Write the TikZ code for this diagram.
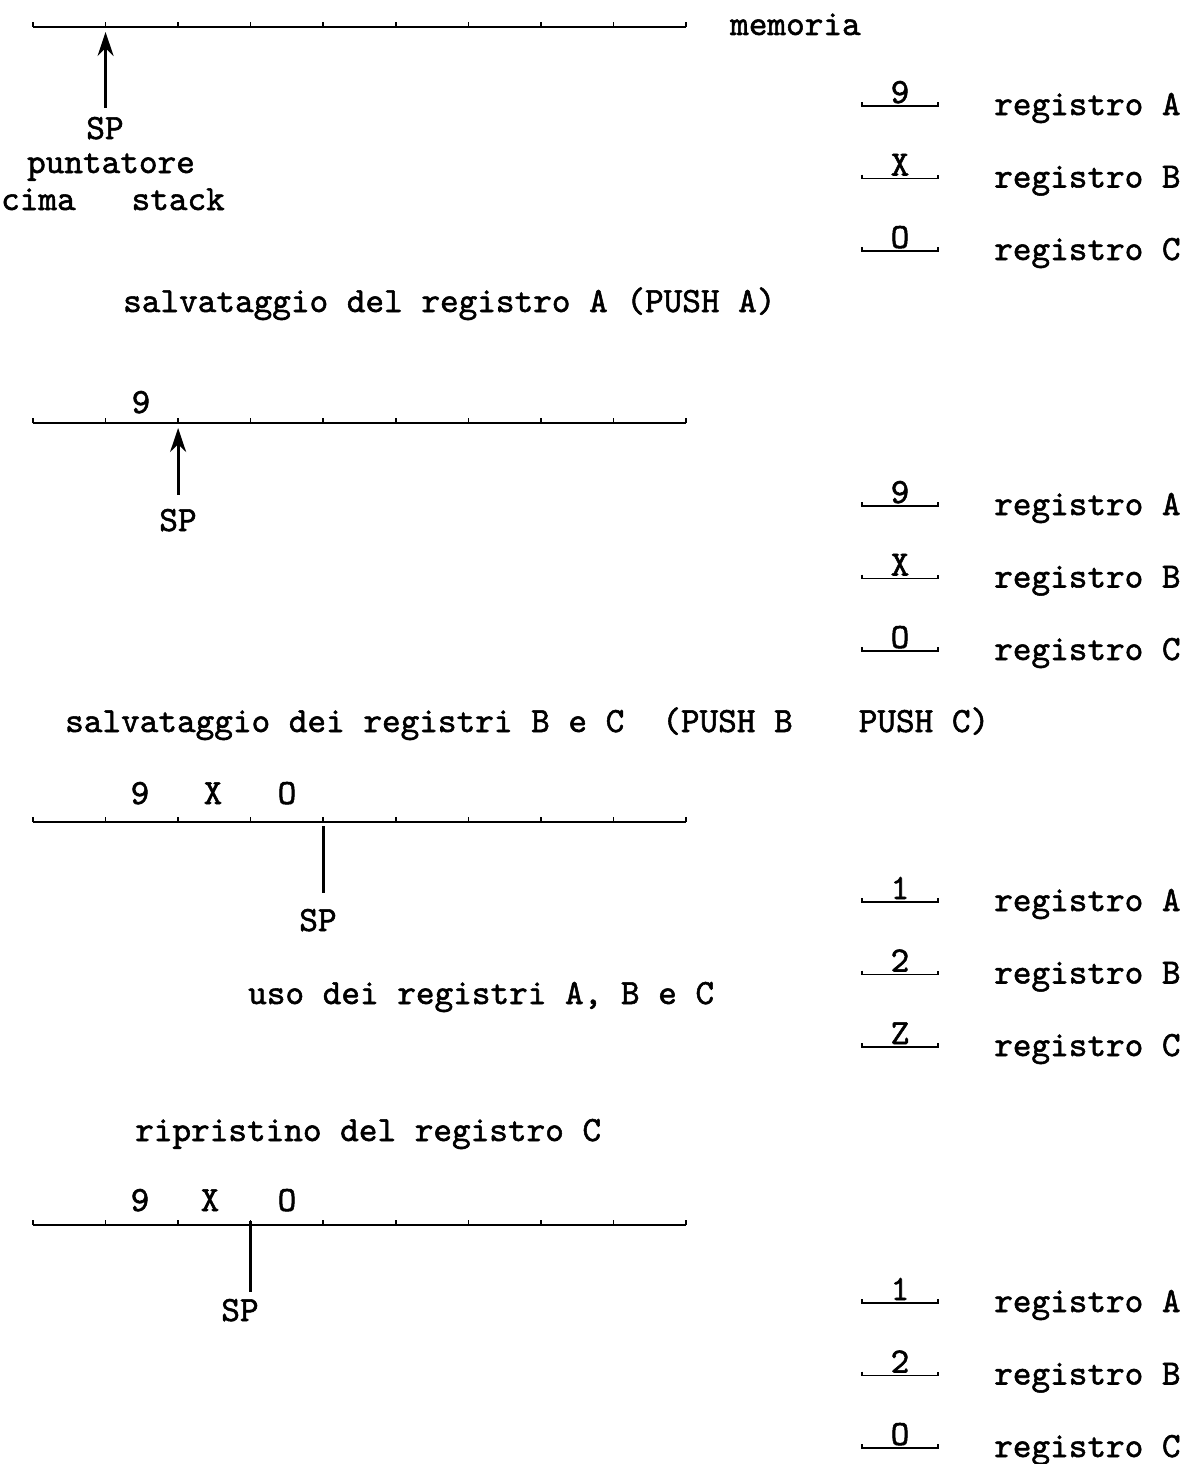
\documentclass[tikz,border=0pt]{standalone}
\usepackage{fontspec}
\newfontfamily\twfont{lmmono10-regular.otf}[FakeBold=1.5]
\usetikzlibrary{arrows.meta}
\begin{document}
\begin{tikzpicture}[x=1pt,y=-1pt,
  txt/.style={font=\fontsize{35.5}{40}\selectfont\twfont, inner sep=0pt},
  memline/.style={line width=1.8pt},
  tickmark/.style={line width=1.5pt},
  sparrow/.style={line width=2.8pt,-{Stealth[length=24pt,width=16pt]}},
  spline/.style={line width=2.8pt},
  regline/.style={line width=1.8pt}]
\useasboundingbox (0,0) rectangle (1194,1464);

% memory lines
\foreach \y/\n in {27/a,423/b,822/c,1225/d}{
  \draw[memline] (33,\y) -- (686,\y);
  \foreach \i in {0,...,9}{
    \draw[tickmark] (33+\i*72.56,\y) coordinate (m\n\i) -- ++(0,-5);
  }
}

% section 1
\node[txt,anchor=base west] (mem) at (730,35) {memoria};
\node[txt,anchor=base] (sp1) at (105,139) {SP};
\node[txt,anchor=base] (pt1) at (111,173) {puntatore};
\node[txt,anchor=base] (cs1) at (113,210) {cima\ \ \ stack};
\draw[sparrow,shorten <=9pt,shorten >=5pt] (sp1.north -| ma1) -- (ma1);

% section 2
\node[txt,anchor=base] (v2a) at (141,413) {9};
\node[txt,anchor=base] (sp2) at (178,531) {SP};
\draw[sparrow,shorten <=14pt,shorten >=5pt] (sp2.north -| mb2) -- (mb2);

% section 3
\node[txt,anchor=base] (v3a) at (140,804) {9};
\node[txt,anchor=base] (v3b) at (213,804) {X};
\node[txt,anchor=base] (v3c) at (287,804) {O};
\node[txt,anchor=base] (sp3) at (318,931) {SP};
\draw[spline,shorten <=16pt,shorten >=4pt] (sp3.north -| mc4) -- (mc4);

% section 4
\node[txt,anchor=base] (v4a) at (140,1211) {9};
\node[txt,anchor=base] (v4b) at (210,1211) {X};
\node[txt,anchor=base] (v4c) at (287,1211) {O};
\node[txt,anchor=base] (sp4) at (240,1321) {SP};
\draw[spline,shorten <=7pt,shorten >=-4pt] (sp4.north -| md3) -- (md3);

% titles
\node[txt,anchor=base west] (t1) at (123,312) {salvataggio del registro A (PUSH A)};
\node[txt,anchor=base west] (t2) at (65,732) {salvataggio dei registri B e C\hspace{38pt}(PUSH B\hspace{66pt}PUSH C)};
\node[txt,anchor=base west] (t3) at (248,1004) {uso dei registri A, B e C};
\node[txt,anchor=base west] (t4) at (135,1141) {ripristino del registro C};

% registers
\foreach \y/\s/\va/\vb/\vc in {106/a/9/X/O, 506/b/9/X/O, 902/c/1/2/Z, 1303/d/1/2/O}{
  \foreach \k/\v/\r in {0/\va/A, 1/\vb/B, 2/\vc/C}{
    \draw[regline] (862,\y+\k*72.5-4) -- (862,\y+\k*72.5) -- (938,\y+\k*72.5) -- (938,\y+\k*72.5-4);
    \node[txt,anchor=base] (val\s\r) at (900,\y+\k*72.5-3) {\v};
    \node[txt,anchor=base west] (lab\s\r) at (994,\y+\k*72.5+9) {registro \r};
  }
}
\end{tikzpicture}
\end{document}
